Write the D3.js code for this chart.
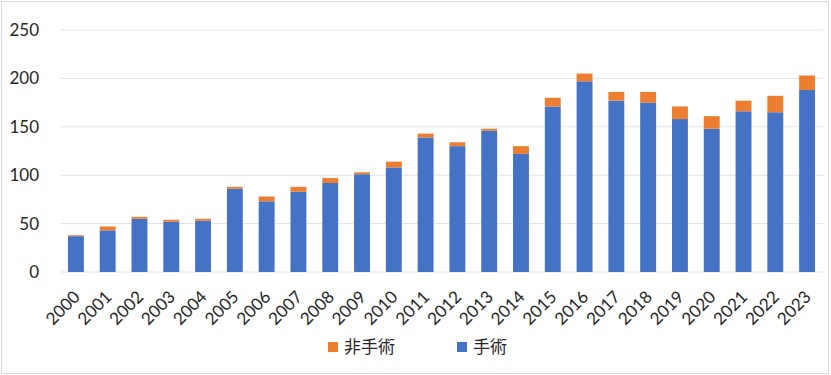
<!DOCTYPE html>
<html>
<head>
<meta charset="utf-8">
<script src="https://cdn.jsdelivr.net/npm/d3@7"></script>
<style>
    body { margin: 0; background: #fff; }
    text { font-family: Lato, "Noto Sans CJK JP", sans-serif; fill: #262626; }
</style>
</head>
<body>
<script>
// Values
var years = ["2000", "2001", "2002", "2003", "2004", "2005", "2006", "2007",
    "2008", "2009", "2010", "2011", "2012", "2013", "2014", "2015", "2016",
    "2017", "2018", "2019", "2020", "2021", "2022", "2023"];
var surgery = [37, 43, 55, 52, 53, 86, 73, 83, 92, 101, 108, 139, 130, 146,
    122, 171, 197, 177, 175, 158, 148, 166, 165, 188];
var nonSurgery = [1, 4, 2, 2, 2, 2, 5, 5, 5, 2, 6, 4, 4, 2, 8, 9, 8, 9, 11,
    13, 13, 11, 17, 15];
var yTicks = [0, 50, 100, 150, 200, 250];

var W = 831, H = 375;
var blue = "#4472c4", orange = "#ed7d31";

var svg = d3.select("body").append("svg")
    .attr("width", W)
    .attr("height", H);

// Outer border
svg.append("rect")
    .attr("x", 1.5).attr("y", 1.5)
    .attr("width", W - 4).attr("height", H - 3)
    .attr("fill", "none")
    .attr("stroke", "#d9d9d9");

var x = d3.scaleBand()
    .domain(years)
    .range([60, 823])
    .paddingInner(0.5)
    .paddingOuter(0.25);

var y = d3.scaleLinear()
    .domain([0, 250])
    .range([272, 30]);

// Gridlines
svg.append("g").selectAll("line")
    .data(yTicks)
    .enter().append("line")
    .attr("x1", 60).attr("x2", 823)
    .attr("y1", function(d) { return y(d); })
    .attr("y2", function(d) { return y(d); })
    .attr("stroke", "#e3e3e3")
    .attr("stroke-width", 1);

// Y labels
svg.append("g").selectAll("text")
    .data(yTicks)
    .enter().append("text")
    .attr("x", 39)
    .attr("y", function(d) { return y(d); })
    .attr("dy", "0.35em")
    .attr("text-anchor", "end")
    .style("font-size", "17px")
    .text(function(d) { return d; });

// Stacked bars
var rows = years.map(function(yr, i) {
    return {year: yr, surgery: surgery[i], non: nonSurgery[i]};
});
var stack = d3.stack().keys(["surgery", "non"])(rows);
var colors = {surgery: blue, non: orange};

svg.append("g").selectAll("g")
    .data(stack)
    .enter().append("g")
    .attr("fill", function(d) { return colors[d.key]; })
    .selectAll("rect")
    .data(function(d) { return d; })
    .enter().append("rect")
    .attr("x", function(d) { return x(d.data.year); })
    .attr("width", x.bandwidth())
    .attr("y", function(d) { return y(d[1]); })
    .attr("height", function(d) { return y(d[0]) - y(d[1]); });

// X labels, rotated
svg.append("g").selectAll("text")
    .data(years)
    .enter().append("text")
    .attr("transform", function(d) {
        return "translate(" + (x(d) + x.bandwidth() / 2 + 5) + ",298)" +
            " rotate(-45)";
    })
    .attr("text-anchor", "end")
    .style("font-size", "17px")
    .text(function(d) { return d; });

// Legend
var legend = [
    {label: "非手術", color: orange, x: 328},
    {label: "手術", color: blue, x: 457}
];
var lg = svg.append("g").selectAll("g")
    .data(legend)
    .enter().append("g")
    .attr("transform", function(d) { return "translate(" + d.x + ",342)"; });
lg.append("rect")
    .attr("width", 10).attr("height", 10)
    .attr("fill", function(d) { return d.color; });
lg.append("text")
    .attr("x", 16).attr("y", 11)
    .style("font-size", "17px")
    .text(function(d) { return d.label; });
</script>
</body>
</html>
